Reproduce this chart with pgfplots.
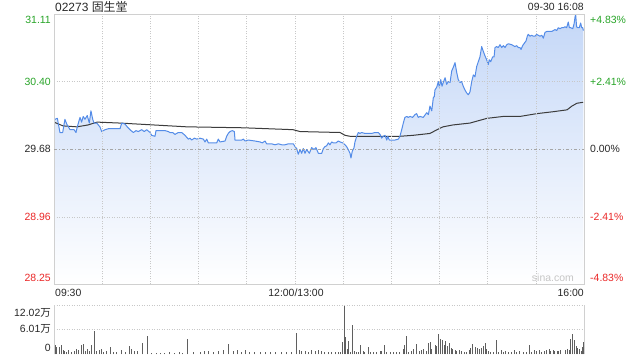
\documentclass[border=0pt]{standalone}
\usepackage{pgfplots}
\pgfplotsset{compat=1.18}
\usepackage{pgfplotstable}
\usepackage{fontspec}
\setmainfont{Liberation Sans}
\newfontfamily\cjk{Noto Sans CJK SC}
\definecolor{pblue}{RGB}{84,140,232}
\definecolor{ugreen}{RGB}{40,165,40}
\definecolor{dred}{RGB}{235,40,40}
\definecolor{txt}{RGB}{40,40,40}
\definecolor{framec}{RGB}{208,208,208}
\definecolor{gridc}{RGB}{200,200,200}
\definecolor{fillblue}{RGB}{196,215,247}
\definecolor{avgc}{RGB}{60,60,60}
\definecolor{volc}{RGB}{95,95,95}

\pgfplotstableread{
x y
0 29.97
0.6 30.00
2.1 30.01
3.7 29.86
5.4 29.86
6.8 30.00
7.9 29.95
10.0 29.89
12.5 29.89
13.7 29.86
14.5 29.92
16.2 30.02
17.2 29.97
18.2 30.03
19.3 30.00
20.7 30.04
22.0 29.96
23.0 30.09
24.1 30.00
24.9 29.96
26.6 29.96
28.6 29.92
29.7 29.87
31.8 29.89
33.8 29.90
38.0 29.90
41.1 29.90
42.2 29.96
44.2 29.95
45.6 29.92
47.3 29.89
49.4 29.86
51.1 29.88
52.5 29.87
54.6 29.89
56.2 29.87
57.7 29.89
59.8 29.86
60.8 29.83
62.9 29.82
63.5 29.88
66.0 29.88
69.1 29.88
71.2 29.87
72.2 29.86
73.9 29.86
75.3 29.84
77.4 29.86
79.5 29.86
81.6 29.83
83.6 29.79
84.7 29.80
85.7 29.78
87.4 29.80
88.9 29.79
90.9 29.80
93.0 29.79
94.0 29.76
95.1 29.79
96.1 29.75
98.2 29.75
101.3 29.75
102.3 29.79
103.4 29.76
106.5 29.77
107.5 29.82
108.5 29.85
109.6 29.87
111.0 29.88
112.3 29.87
112.7 29.78
114.8 29.78
116.9 29.78
117.9 29.79
118.9 29.77
121.0 29.78
125.1 29.77
128.3 29.76
129.7 29.75
131.4 29.77
132.4 29.74
135.5 29.74
137.6 29.73
139.7 29.74
141.8 29.73
143.8 29.73
145.9 29.74
149.0 29.74
150.1 29.71
151.1 29.69
152.1 29.63
153.2 29.68
154.2 29.64
155.2 29.69
156.3 29.64
157.3 29.68
159.0 29.64
160.4 29.70
161.9 29.68
163.1 29.70
164.6 29.64
166.7 29.64
167.7 29.69
168.7 29.71
169.8 29.72
170.8 29.75
171.8 29.73
172.9 29.76
173.9 29.75
175.6 29.75
177.0 29.77
178.1 29.76
179.8 29.75
181.2 29.73
182.2 29.71
183.2 29.68
184.3 29.64
184.9 29.59
185.7 29.66
186.8 29.70
187.4 29.76
188.5 29.82
189.5 29.86
190.5 29.85
191.6 29.86
193.6 29.85
195.7 29.85
197.8 29.85
199.9 29.86
201.9 29.86
203.0 29.84
204.0 29.80
205.0 29.82
206.1 29.83
207.2 29.78
207.8 29.82
208.8 29.78
210.3 29.78
212.3 29.78
214.4 29.79
215.4 29.82
216.5 29.89
217.5 29.96
218.5 30.02
219.6 30.03
220.6 30.02
221.7 30.03
223.3 30.02
224.8 30.05
225.8 30.06
226.8 30.02
227.9 30.03
229.9 30.02
232.1 30.07
233.1 30.05
234.1 30.14
235.2 30.09
236.2 30.23
236.8 30.24
237.2 30.31
238.3 30.34
239.3 30.40
239.9 30.34
240.8 30.42
241.6 30.35
242.4 30.39
243.5 30.44
244.5 30.37
245.5 30.40
246.6 30.39
247.6 30.51
248.6 30.55
249.7 30.60
250.7 30.50
251.7 30.42
252.8 30.39
253.8 30.40
254.8 30.35
255.9 30.31
256.9 30.28
258.0 30.26
259.0 30.29
260.1 30.40
261.1 30.47
262.1 30.45
263.2 30.56
264.2 30.61
265.2 30.66
266.3 30.77
267.3 30.72
268.4 30.67
269.4 30.63
270.4 30.58
271.0 30.63
271.9 30.61
273.1 30.66
274.0 30.66
274.6 30.76
275.6 30.77
276.6 30.76
277.7 30.79
278.8 30.76
279.8 30.78
280.8 30.76
281.9 30.79
282.9 30.80
285.0 30.79
287.0 30.77
288.1 30.78
289.1 30.76
290.1 30.76
290.8 30.74
291.8 30.78
292.6 30.80
293.9 30.83
294.7 30.88
295.3 30.90
296.4 30.88
297.4 30.89
298.4 30.88
299.5 30.88
300.5 30.90
301.5 30.89
302.6 30.88
303.7 30.89
304.7 30.86
305.7 30.92
306.8 30.93
308.8 30.93
309.9 30.93
310.9 30.94
311.9 30.95
313.0 30.94
314.0 30.97
315.1 30.96
316.1 30.97
317.1 30.97
318.2 30.98
319.2 30.97
320.2 31.03
320.9 30.97
321.7 30.97
323.0 30.96
323.8 31.01
324.4 31.08
324.8 31.11
325.4 30.98
326.1 30.97
327.1 30.97
327.9 31.02
328.6 30.97
329.2 30.97
329.6 30.94
}\price

\pgfplotstableread{
x y
0 29.97
5.6 29.93
14.3 29.92
21.2 29.94
26.8 29.97
41.1 29.96
82.8 29.92
117.7 29.91
148.8 29.89
153.2 29.87
178.1 29.86
181.2 29.83
184.3 29.82
215.4 29.82
223.5 29.83
234.1 29.85
238.5 29.89
242.2 29.92
248.4 29.94
259.0 29.96
269.6 30.01
279.6 30.03
290.1 30.03
300.7 30.06
310.7 30.08
319.4 30.10
322.5 30.14
325.6 30.17
329.4 30.18
}\avg

\pgfplotstableread{
x v
0.6 2.24
1.7 1.68
3.3 1.68
4.8 2.24
5.8 1.03
6.8 0.89
7.9 0.65
8.9 1.03
11.0 0.65
12.5 0.79
14.1 1.20
15.1 1.03
17.2 2.24
18.2 2.48
19.3 0.89
20.7 1.20
22.0 0.79
23.5 2.24
25.1 5.70
26.6 0.89
28.6 1.03
29.7 1.20
30.7 0.65
32.4 0.79
34.9 1.68
36.9 0.65
39.0 0.65
42.2 1.03
44.2 0.65
46.9 2.00
48.4 1.20
50.4 0.89
51.9 0.79
55.0 2.81
58.1 4.40
60.8 0.41
63.9 0.35
66.0 0.40
69.0 0.35
72.0 0.50
75.0 0.40
78.0 0.45
80.0 0.35
83.0 3.68
86.7 0.65
90.9 0.65
93.4 0.79
96.1 0.79
99.2 0.65
102.3 0.79
105.4 1.03
108.5 2.48
111.6 0.79
114.1 1.03
116.9 0.65
118.9 1.03
122.0 0.65
125.1 0.65
128.3 0.48
131.4 0.65
134.5 0.55
137.6 0.55
141.8 0.48
144.9 0.55
148.0 0.55
151.1 5.22
152.7 1.03
154.2 0.79
156.3 0.89
158.3 0.65
160.4 1.03
162.5 0.79
164.6 1.03
166.7 0.79
168.7 0.65
170.8 0.55
172.9 0.65
175.0 0.55
177.0 0.65
178.1 0.65
179.5 3.05
180.6 11.85
181.6 4.26
182.6 1.20
183.5 3.29
184.7 0.65
185.7 7.04
186.8 0.79
188.5 0.65
189.5 0.65
191.0 2.24
192.6 0.89
193.6 0.65
195.7 1.68
196.8 0.65
198.8 0.55
200.9 0.65
203.0 0.79
204.0 0.89
205.7 2.24
207.2 0.65
209.2 0.55
211.3 0.55
213.4 0.55
215.4 0.48
217.5 1.20
218.5 2.24
219.6 4.40
220.6 0.65
222.7 0.79
223.8 1.20
225.8 2.48
227.3 0.89
228.9 1.03
229.9 1.20
231.6 0.89
233.1 2.81
234.1 3.05
235.2 1.20
237.2 2.24
238.3 2.00
239.3 4.88
240.8 3.68
241.8 3.44
242.8 2.24
243.9 3.20
244.9 2.00
246.1 2.81
247.2 1.44
248.2 1.20
249.7 1.03
250.7 0.89
252.4 1.03
253.8 0.89
255.3 0.65
256.9 0.65
258.6 1.03
259.4 1.44
260.7 2.48
262.1 1.68
263.6 1.44
264.8 1.20
266.3 1.44
267.3 2.00
268.4 2.81
269.4 1.20
270.4 0.89
271.9 0.65
273.5 0.65
275.2 3.44
276.6 0.65
278.3 1.03
279.8 0.65
281.4 0.89
282.9 0.65
285.0 0.65
287.0 1.03
288.1 0.65
290.1 0.89
292.2 0.65
293.9 0.65
295.9 2.24
297.4 0.65
299.1 1.03
300.5 0.89
302.2 1.03
303.7 0.65
305.1 0.79
306.8 1.03
308.4 1.20
309.4 0.89
310.9 1.03
311.9 0.89
313.4 0.89
314.4 0.89
315.5 1.03
318.2 1.03
319.6 1.20
320.8 1.03
321.7 3.85
323.0 4.88
324.2 3.44
325.0 2.00
325.8 1.44
327.1 1.20
328.3 0.89
329.2 1.85
329.9 3.05
}\vol

\begin{document}
\begin{tikzpicture}
\fill[white] (0,0) rectangle (640bp,360bp);
\begin{axis}[at={(54bp,75.5bp)}, anchor=south west, scale only axis,
  width=530bp, height=270bp,
  xmin=0, xmax=330, ymin=28.25, ymax=31.11,
  xtick={0,30,...,330}, ytick={28.25,28.96,30.40,31.11},
  xticklabels={}, yticklabels={},
  extra y ticks={29.68}, extra y tick labels={},
  extra y tick style={grid style={dash pattern=on 3bp off 2bp on 1bp off 2bp, draw=gray!70, line width=0.6bp}},
  grid=major, grid style={dash pattern=on 1bp off 1.5bp, draw=gridc, line width=0.6bp},
  axis line style={draw=framec, line width=0.8bp},
  tick style={draw=none}, axis on top]
\addplot[top color=fillblue, bottom color=white, draw=none, forget plot] table[x=x,y=y] {\price}
  -- (axis cs:329.6,28.25) -- (axis cs:0,28.25) -- cycle;
\addplot[draw=avgc, line width=1bp] table[x=x,y=y] {\avg};
\addplot[draw=pblue, line width=1bp, line join=round] table[x=x,y=y] {\price};
\end{axis}

\begin{axis}[at={(54bp,5.7bp)}, anchor=south west, scale only axis,
  width=530bp, height=49.3bp,
  xmin=0, xmax=330, ymin=0, ymax=12.02,
  ytick={6.01,12.02}, yticklabels={}, xtick=\empty,
  ymajorgrids, grid style={dash pattern=on 1bp off 1.5bp, draw=gridc, line width=0.6bp},
  axis x line=none, axis y line=box,
  axis line style={draw=framec, line width=0.8bp, -},
  tick style={draw=none}]
\addplot[ycomb, draw=volc, line width=0.9bp] table[x=x,y=v] {\vol};
\end{axis}

\node[anchor=west, text=txt, inner sep=0, font=\fontsize{12}{14}\selectfont] at (55bp,353bp) {02273 {\cjk 固生堂}};
\begin{scope}[font=\fontsize{10.5}{12}\selectfont]
\node[anchor=east, text=txt, inner sep=0] at (584bp,353bp) {09-30 16:08};
\node[anchor=east, text=ugreen, inner sep=0] at (51bp,340bp) {31.11};
\node[anchor=east, text=ugreen, inner sep=0] at (51bp,278bp) {30.40};
\node[anchor=east, text=txt, inner sep=0] at (51bp,211bp) {29.68};
\node[anchor=east, text=dred, inner sep=0] at (51bp,143bp) {28.96};
\node[anchor=east, text=dred, inner sep=0] at (51bp,82bp) {28.25};
\node[anchor=west, text=ugreen, inner sep=0] at (590bp,340bp) {+4.83\%};
\node[anchor=west, text=ugreen, inner sep=0] at (590bp,278bp) {+2.41\%};
\node[anchor=west, text=txt, inner sep=0] at (590bp,211bp) {0.00\%};
\node[anchor=west, text=dred, inner sep=0] at (590bp,143bp) {-2.41\%};
\node[anchor=west, text=dred, inner sep=0] at (590bp,82bp) {-4.83\%};
\node[anchor=west, text=txt, inner sep=0] at (55bp,67bp) {09:30};
\node[text=txt, inner sep=0] at (296bp,67bp) {12:00/13:00};
\node[anchor=east, text=txt, inner sep=0] at (584bp,67bp) {16:00};
\node[anchor=east, text=gray!45, inner sep=0] at (574bp,82bp) {sina.com};
\node[anchor=east, text=txt, inner sep=0] at (51bp,47.5bp) {12.02{\cjk 万}};
\node[anchor=east, text=txt, inner sep=0] at (51bp,31bp) {6.01{\cjk 万}};
\node[anchor=east, text=txt, inner sep=0] at (51bp,12bp) {0};
\end{scope}
\end{tikzpicture}
\end{document}
